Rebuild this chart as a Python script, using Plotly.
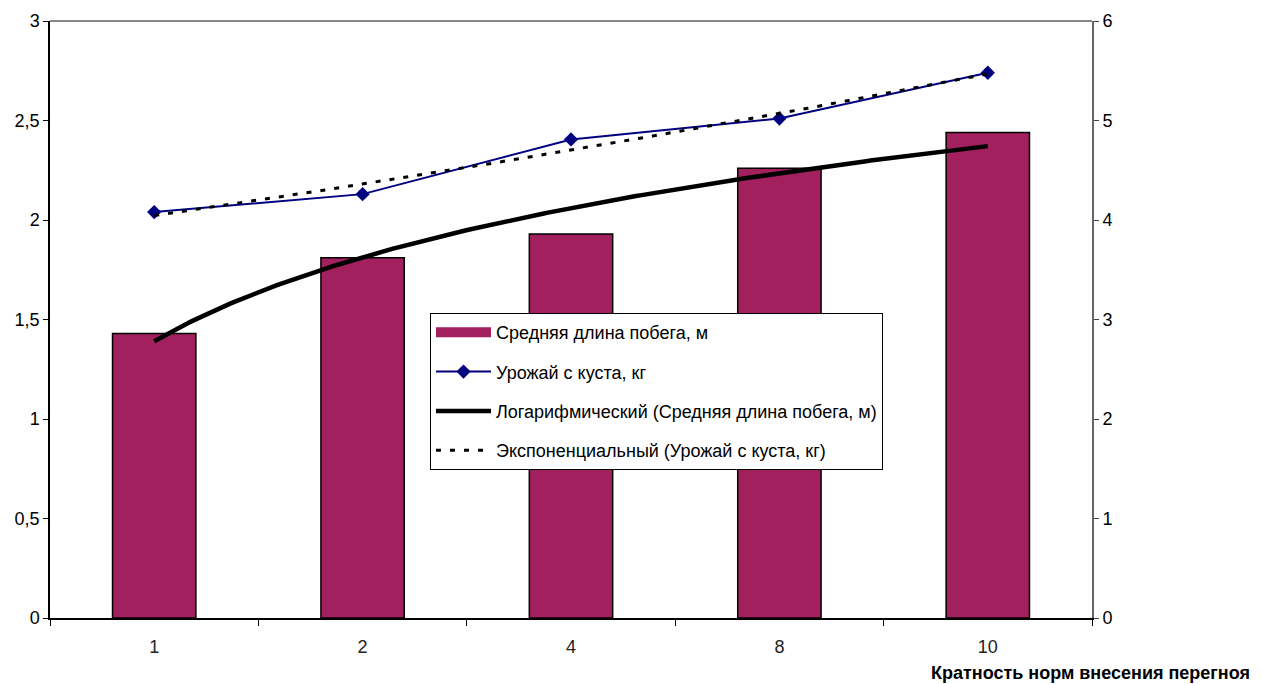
import numpy as np
import plotly.graph_objects as go

# Application rate multiples (categories on the x axis)
categories = ["1", "2", "4", "8", "10"]
# Mean shoot length, m (left axis)
shoot_length = [1.43, 1.81, 1.93, 2.26, 2.44]
# Yield per bush, kg (right axis)
yield_per_bush = [4.08, 4.26, 4.81, 5.02, 5.48]

x_pos = np.arange(1, len(categories) + 1)

# Logarithmic trend for shoot length: y = a*ln(x) + b
a_log, b_log = np.polyfit(np.log(x_pos), shoot_length, 1)
# Exponential trend for yield: y = c*exp(k*x)
k_exp, ln_c = np.polyfit(x_pos, np.log(yield_per_bush), 1)

x_fit = np.linspace(x_pos[0], x_pos[-1], 200)
log_fit = a_log * np.log(x_fit) + b_log
exp_fit = np.exp(ln_c) * np.exp(k_exp * x_fit)

BAR_COLOR = "#A2205E"
FONT = "Liberation Sans, Arial, sans-serif"
BAR_NAME = "Средняя длина побега, м"

fig = go.Figure()

fig.add_trace(go.Bar(
    x=x_pos, y=shoot_length, width=0.4,
    name=BAR_NAME, showlegend=False,
    marker=dict(color=BAR_COLOR, line=dict(color="black", width=1.5)),
    legendgroup="g1",
))
# Wide legend swatch for the bar series
fig.add_trace(go.Scatter(
    x=[None], y=[None], mode="lines", name=BAR_NAME,
    line=dict(color=BAR_COLOR, width=13),
    legendgroup="g1",
))
fig.add_trace(go.Scatter(
    x=x_pos, y=yield_per_bush, yaxis="y2", mode="lines+markers",
    name="Урожай с куста, кг",
    line=dict(color="#000080", width=2),
    marker=dict(symbol="diamond", size=11, color="#000080"),
    legendgroup="g2",
))
fig.add_trace(go.Scatter(
    x=x_fit, y=log_fit, mode="lines",
    name="Логарифмический (Средняя длина побега, м)",
    line=dict(color="black", width=4.5),
    legendgroup="g3",
))
fig.add_trace(go.Scatter(
    x=x_fit, y=exp_fit, yaxis="y2", mode="lines",
    name="Экспоненциальный (Урожай с куста, кг)",
    line=dict(color="black", width=3, dash="5px,9px"),
    legendgroup="g4",
))

fig.update_layout(
    width=1261, height=684,
    margin=dict(l=50, r=169, t=21, b=66),
    paper_bgcolor="white", plot_bgcolor="white",
    separators=", ",
    font=dict(family=FONT, size=18, color="black"),
    showlegend=True,
    legend=dict(
        x=0.3647, y=0.511, xanchor="left", yanchor="top",
        bgcolor="white", bordercolor="black", borderwidth=1,
        font=dict(family=FONT, size=18),
        itemwidth=55, traceorder="grouped", tracegroupgap=13,
    ),
    xaxis=dict(
        range=[0.5, 5.5],
        tickvals=list(x_pos), ticktext=categories,
        ticks="", showline=True, linecolor="black", linewidth=1.5,
        showgrid=False, zeroline=False,
        ticklabelstandoff=12,
        minor=dict(tickvals=list(np.arange(0.5, 6.0, 1.0)), ticks="outside",
                   ticklen=6, tickcolor="black", showgrid=False),
        tickfont=dict(size=18, color="#222"),
    ),
    yaxis=dict(
        range=[0, 3], dtick=0.5, showgrid=False, zeroline=False,
        showline=True, linecolor="black", linewidth=1.5,
        ticks="outside", ticklen=5, tickcolor="black",
        tickfont=dict(size=18),
    ),
    yaxis2=dict(
        range=[0, 6], dtick=1, overlaying="y", side="right",
        showgrid=False, zeroline=False,
        showline=True, linecolor="#666", linewidth=2,
        ticks="outside", ticklen=5, tickcolor="#444",
        tickfont=dict(size=18),
    ),
    shapes=[dict(type="line", xref="paper", yref="paper", x0=0, x1=1, y0=1, y1=1,
                 line=dict(color="#888", width=2))],
    annotations=[dict(
        text="<b>Кратность норм внесения перегноя</b>",
        xref="paper", yref="paper", x=1.1536, y=-0.092,
        xanchor="right", yanchor="middle", showarrow=False,
        font=dict(family=FONT, size=18, color="black"),
    )],
)

fig.write_html("out.html")
